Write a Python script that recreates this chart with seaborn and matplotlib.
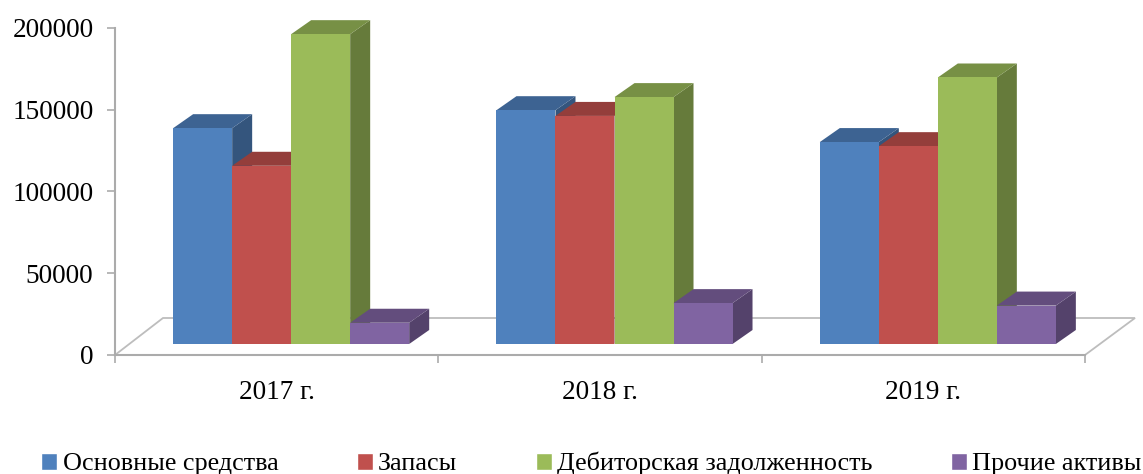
import matplotlib
matplotlib.use("Agg")
import matplotlib.pyplot as plt
import numpy as np
import pandas as pd
import seaborn as sns
from matplotlib.colors import to_rgb
from matplotlib.patches import Polygon
from matplotlib.transforms import ScaledTranslation

years = ["2017 г.", "2018 г.", "2019 г."]
series = ["Основные средства", "Запасы", "Дебиторская задолженность", "Прочие активы"]
osnovnye = [132000, 143000, 123500]
zapasy = [109000, 139500, 121000]
debitor = [189500, 151000, 163000]
prochie = [13000, 25000, 23500]
colors = ["#4F81BD", "#C0504D", "#9BBB59", "#8064A2"]
y_ticks = [0, 50000, 100000, 150000, 200000]

sns.set_theme(style="white")
plt.rcParams["font.family"] = ["Liberation Serif", "DejaVu Serif"]

W, H, DPI = 1143, 474, 100
L, R, T, B = 115, 1085, 28, 355
AXIS_GREY = "#ABABAB"

df = pd.DataFrame({
    "year": np.repeat(years, 4),
    "series": series * 3,
    "value": [v[i] for i in range(3) for v in (osnovnye, zapasy, debitor, prochie)],
})

fig = plt.figure(figsize=(W / DPI, H / DPI), dpi=DPI)
ax = fig.add_axes([L / W, 1 - B / H, (R - L) / W, (B - T) / H])
sns.barplot(data=df, x="year", y="value", hue="series", order=years, hue_order=series,
            palette=colors, saturation=1, width=0.73, gap=0, errorbar=None, ax=ax)
handles, labels = ax.get_legend_handles_labels()
ax.get_legend().remove()
ax.set_xlim(-0.5, 2.5)
ax.set_ylim(0, 200000)
ax.set_xlabel("")
ax.set_ylabel("")

px_x = 3 / (R - L)
px_y = 200000 / (B - T)
shift = ax.transData + ScaledTranslation(14.5 / DPI, 11 / DPI, fig.dpi_scale_trans)
depth_x, depth_y = 20 * px_x, 14 * px_y


def shade(colour, k):
    return tuple(c * k for c in to_rgb(colour))


bars = [b for b in ax.patches if b.get_height() > 0]
bars.sort(key=lambda b: b.get_x())
for n, bar in enumerate(bars):
    x0, w, h = bar.get_x(), bar.get_width(), bar.get_height()
    colour = bar.get_facecolor()
    z = 3 + n
    bar.set_transform(shift)
    bar.set_zorder(z + 0.5)
    bar.set_clip_on(False)
    bar.set_linewidth(0)
    side = [(x0 + w, 0), (x0 + w + depth_x, depth_y), (x0 + w + depth_x, h + depth_y), (x0 + w, h)]
    top = [(x0, h), (x0 + depth_x, h + depth_y), (x0 + w + depth_x, h + depth_y), (x0 + w, h)]
    ax.add_patch(Polygon(side, closed=True, fc=shade(colour, 0.66), lw=0, transform=shift, zorder=z, clip_on=False))
    ax.add_patch(Polygon(top, closed=True, fc=shade(colour, 0.77), lw=0, transform=shift, zorder=z, clip_on=False))

floor = [(-0.5, 0), (-0.5 + 48 * px_x, 37 * px_y), (2.5 + 50 * px_x, 37 * px_y), (2.5, 0)]
ax.add_patch(Polygon(floor, closed=False, fill=False, ec="#BDBDBD", lw=1.3, zorder=1, clip_on=False))

sns.despine(ax=ax, top=True, right=True)
for s in ("left", "bottom"):
    ax.spines[s].set_color(AXIS_GREY)
    ax.spines[s].set_linewidth(1.5)
ax.set_yticks(y_ticks)
ax.set_yticklabels([str(v) for v in y_ticks])
ax.set_xticks(range(3))
ax.set_xticklabels(years)
ax.set_xticks([-0.5, 0.5, 1.5, 2.5], minor=True)
ax.tick_params(axis="y", left=True, length=5.5, width=1.2, color=AXIS_GREY, labelsize=19.6,
               labelcolor="black", pad=10)
ax.tick_params(axis="x", which="major", bottom=False, labelsize=19.6, labelcolor="black", pad=12)
ax.tick_params(axis="x", which="minor", bottom=True, length=5.5, width=1.2, color=AXIS_GREY)

fig.legend(handles, labels, ncol=4, loc="lower left", bbox_to_anchor=(38.5 / W, -4 / H),
           bbox_transform=fig.transFigure, frameon=False, fontsize=18.8, handlelength=0.62,
           handleheight=0.62, handletextpad=0.2, columnspacing=3.0, borderpad=0.1,
           borderaxespad=0.0, labelcolor="black")

fig.savefig("out.png", dpi=DPI)
